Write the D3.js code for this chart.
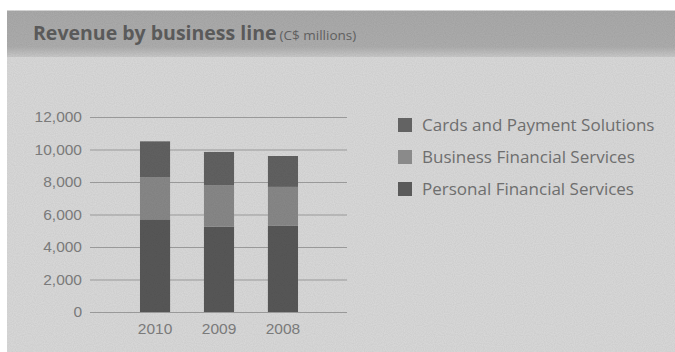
<!DOCTYPE html>
<html lang="en">
<head>
<meta charset="UTF-8">
<title>Revenue by business line</title>
<script src="https://cdnjs.cloudflare.com/ajax/libs/d3/7.8.5/d3.min.js"></script>
<style>
    body { margin: 0; background: #fff; }
    svg { display: block; font-family: "Open Sans", sans-serif; }
</style>
</head>
<body>
<svg id="chart" width="675" height="352"></svg>
<script>
// data (C$ millions)
const years = ["2010", "2009", "2008"];
const personal = [5700, 5250, 5300];
const business = [2600, 2550, 2400];
const cards = [2200, 2050, 1900];
const seriesNames = ["Personal Financial Services", "Business Financial Services", "Cards and Payment Solutions"];
const yTicks = [0, 2000, 4000, 6000, 8000, 10000, 12000];

const svg = d3.select("#chart");
const W = 675, H = 352;

// panel background + noise to mimic the halftone scan
const defs = svg.append("defs");
const f = defs.append("filter").attr("id", "grain").attr("x", 0).attr("y", 0).attr("width", 1).attr("height", 1);
f.append("feTurbulence").attr("type", "fractalNoise").attr("baseFrequency", 0.9).attr("numOctaves", 1).attr("seed", 3).attr("result", "n");
f.append("feColorMatrix").attr("in", "n").attr("type", "matrix")
    .attr("values", "0 0 0 0 0  0 0 0 0 0  0 0 0 0 0  0 0 0 0.18 0").attr("result", "a");
f.append("feComposite").attr("in", "a").attr("in2", "SourceGraphic").attr("operator", "in").attr("result", "m");
f.append("feMerge").call(m => { m.append("feMergeNode").attr("in", "SourceGraphic"); m.append("feMergeNode").attr("in", "m"); });

const grad = defs.append("linearGradient").attr("id", "band").attr("x1", 0).attr("y1", 0).attr("x2", 0).attr("y2", 1);
grad.append("stop").attr("offset", "0%").attr("stop-color", "#acacac");
grad.append("stop").attr("offset", "78%").attr("stop-color", "#b0b0b0");
grad.append("stop").attr("offset", "100%").attr("stop-color", "#cccccc");

svg.append("rect").attr("x", 7).attr("y", 10).attr("width", W - 7).attr("height", H - 10)
    .attr("fill", "#dcdcdc").attr("filter", "url(#grain)");
svg.append("rect").attr("x", 7).attr("y", 11).attr("width", W - 7).attr("height", 46)
    .attr("fill", "url(#band)").attr("filter", "url(#grain)");

const title = svg.append("text").attr("x", 33).attr("y", 40).attr("fill", "#5a5a5a");
title.append("tspan").attr("font-size", 19.5).attr("font-weight", "bold").text("Revenue by business line");
title.append("tspan").attr("font-size", 13.5).attr("fill", "#606060").attr("dx", 3).text("(C$ millions)");

// scales
const x = d3.scaleBand().domain(years).range([124, 314]).paddingInner(0.53).paddingOuter(0.25);
const y = d3.scaleLinear().domain([0, 12000]).range([312, 117]);

const yAxis = svg.append("g").attr("transform", "translate(90,0)")
    .call(d3.axisLeft(y).tickValues(yTicks).tickFormat(d3.format(",")).tickSize(-257).tickPadding(8));
yAxis.select(".domain").remove();
yAxis.selectAll("line").attr("stroke", "#999").attr("stroke-width", 1);
yAxis.selectAll("text").attr("fill", "#7a7a7a").attr("font-size", 15.5);

const xAxis = svg.append("g").attr("transform", "translate(0,312)")
    .call(d3.axisBottom(x).tickSize(0).tickPadding(11));
xAxis.select(".domain").remove();
xAxis.selectAll("text").attr("fill", "#7a7a7a").attr("font-size", 15.5);

// stacked bars
const rows = years.map((yr, i) => ({ year: yr, personal: personal[i], business: business[i], cards: cards[i] }));
const stack = d3.stack().keys(["personal", "business", "cards"])(rows);
const colors = { personal: "#5a5a5a", business: "#8a8a8a", cards: "#636363" };

svg.append("g").selectAll("g").data(stack).join("g")
    .attr("fill", d => colors[d.key])
    .selectAll("rect").data(d => d).join("rect")
    .attr("x", d => x(d.data.year))
    .attr("y", d => y(d[1]))
    .attr("width", x.bandwidth())
    .attr("height", d => y(d[0]) - y(d[1]))
    .attr("filter", "url(#grain)");

// legend (top to bottom: cards, business, personal)
const legendKeys = ["cards", "business", "personal"];
const legend = svg.append("g").selectAll("g").data(legendKeys).join("g")
    .attr("transform", (d, i) => `translate(398,${125 + i * 32})`);
legend.append("rect").attr("x", 0).attr("y", -7).attr("width", 14).attr("height", 14)
    .attr("fill", d => colors[d]);
legend.append("text").attr("x", 24).attr("y", 0).attr("dy", "0.35em")
    .attr("fill", "#6e6e6e").attr("font-size", 17)
    .text((d, i) => seriesNames[2 - i]);
</script>
</body>
</html>
